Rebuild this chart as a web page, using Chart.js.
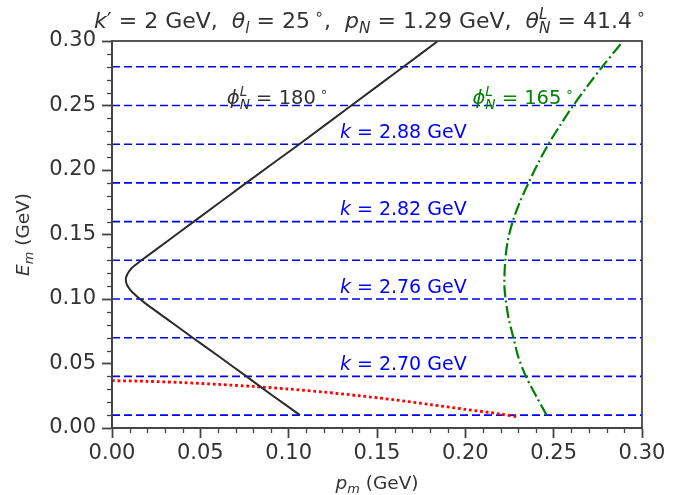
<!DOCTYPE html>
<html>
<head>
<meta charset="utf-8">
<script src="https://cdn.jsdelivr.net/npm/chart.js@4.4.0/dist/chart.umd.min.js"></script>
<style>
  html, body { margin: 0; padding: 0; background: #fff; }
</style>
</head>
<body>
<canvas id="chart" width="696" height="495"></canvas>
<script>
// dashed k = const lines (E_m in GeV)
const kLevels = [0.01, 0.04, 0.07, 0.10, 0.13, 0.16, 0.19, 0.22, 0.25, 0.28];
// k labels and the dashed line each one sits on
const kNames = ['2.70', '2.76', '2.82', '2.88'];
const kNameLevels = [0.04, 0.10, 0.16, 0.22];

// phi_N^L = 180 deg curve (p_m, E_m)
const phi180X = [0.1064, 0.0910, 0.0761, 0.0610, 0.0457, 0.0306, 0.0185, 0.0117, 0.0088, 0.0078, 0.0086, 0.0112, 0.0167, 0.0315, 0.0463, 0.0760, 0.1060, 0.1355, 0.1650, 0.1845];
const phi180Y = [0.010, 0.025, 0.040, 0.055, 0.070, 0.085, 0.097, 0.105, 0.110, 0.1147, 0.119, 0.124, 0.130, 0.145, 0.160, 0.190, 0.220, 0.250, 0.280, 0.300];

// phi_N^L = 165 deg curve
const phi165X = [0.2460, 0.2400, 0.2343, 0.2300, 0.2272, 0.2245, 0.2228, 0.2222, 0.2221, 0.2226, 0.2240, 0.2268, 0.2308, 0.2358, 0.2411, 0.2470, 0.2538, 0.2611, 0.2691, 0.2775, 0.2885];
const phi165Y = [0.010, 0.025, 0.040, 0.055, 0.070, 0.085, 0.100, 0.108, 0.115, 0.130, 0.145, 0.160, 0.175, 0.190, 0.205, 0.220, 0.235, 0.250, 0.265, 0.280, 0.2985];

// red dotted boundary
const redX = [0.000, 0.020, 0.040, 0.060, 0.080, 0.100, 0.120, 0.140, 0.160, 0.180, 0.200, 0.220, 0.230];
const redY = [0.0367, 0.0362, 0.0352, 0.0338, 0.0322, 0.0302, 0.0278, 0.0250, 0.0218, 0.0182, 0.0145, 0.0108, 0.0085];

const FONT = '"DejaVu Sans", sans-serif';
const TXT = '#333333';

function pts(xs, ys) {
  return xs.map((x, i) => ({ x: x, y: ys[i] }));
}

// draws text with italic parts, sub- and superscripts
function richWidth(ctx, parts, size) {
  let w = 0;
  parts.forEach(p => {
    if (p.ss) {
      ctx.font = 'italic ' + size * 0.7 + 'px ' + FONT;
      w += Math.max(ctx.measureText(p.ss[0]).width, ctx.measureText(p.ss[1]).width);
    } else {
      const s = p[2] ? size * 0.7 : size;
      ctx.font = (p[1] ? 'italic ' : '') + s + 'px ' + FONT;
      w += ctx.measureText(p[0]).width;
    }
  });
  return w;
}

function drawRich(ctx, parts, x, y, size, color, align) {
  const w = richWidth(ctx, parts, size);
  if (align === 'center') x -= w / 2;
  ctx.fillStyle = color;
  ctx.textBaseline = 'alphabetic';
  ctx.textAlign = 'left';
  parts.forEach(p => {
    if (p.ss) {
      ctx.font = 'italic ' + size * 0.7 + 'px ' + FONT;
      ctx.fillText(p.ss[0], x, y + size * 0.22);
      ctx.fillText(p.ss[1], x, y - size * 0.42);
      x += Math.max(ctx.measureText(p.ss[0]).width, ctx.measureText(p.ss[1]).width);
      return;
    }
    let s = size, dy = 0;
    if (p[2] === 'sub') { s = size * 0.7; dy = size * 0.22; }
    if (p[2] === 'sup') { s = size * 0.7; dy = -size * 0.42; }
    ctx.font = (p[1] ? 'italic ' : '') + s + 'px ' + FONT;
    ctx.fillText(p[0], x, y + dy);
    x += ctx.measureText(p[0]).width;
  });
}

const textPlugin = {
  id: 'texts',
  afterDatasetsDraw(chart) {
    const ctx = chart.ctx;
    const xs = chart.scales.x, ys = chart.scales.y;
    const a = chart.chartArea;
    ctx.save();

    // frame (top + right)
    ctx.strokeStyle = '#444';
    ctx.lineWidth = 1.8;
    ctx.strokeRect(a.left, a.top, a.right - a.left, a.bottom - a.top);

    // minor ticks
    ctx.lineWidth = 1.3;
    for (let i = 0; i <= 30; i++) {
      if (i % 5 === 0) continue;
      const px = Math.round(xs.getPixelForValue(i / 100)) + 0.5;
      ctx.beginPath(); ctx.moveTo(px, a.bottom); ctx.lineTo(px, a.bottom + 5); ctx.stroke();
      const py = Math.round(ys.getPixelForValue(i / 100)) + 0.5;
      ctx.beginPath(); ctx.moveTo(a.left, py); ctx.lineTo(a.left - 5, py); ctx.stroke();
    }

    // k labels
    kNames.forEach((k, i) => {
      drawRich(ctx, [['k', true], [' = ' + k + ' GeV']],
        xs.getPixelForValue(0.129), ys.getPixelForValue(kNameLevels[i] + 0.005), 19, '#0000ff');
    });

    // curve labels
    const phi = (v) => [['ϕ', true], { ss: ['N', 'L'] }, [' = ' + v + '\u2009'], ['∘', false, 'sup']];
    drawRich(ctx, phi('180'), xs.getPixelForValue(0.065), ys.getPixelForValue(0.251), 19.5, TXT);
    drawRich(ctx, phi('165'), xs.getPixelForValue(0.204), ys.getPixelForValue(0.251), 19.5, '#008000');

    // title
    const title = [['k', true], ['′'], [' = 2 GeV,  '], ['θ', true], ['l', true, 'sub'], [' = 25\u2009'], ['∘', false, 'sup'],
      [',  '], ['p', true], ['N', true, 'sub'], [' = 1.29 GeV,  '], ['θ', true], { ss: ['N', 'L'] }, [' = 41.4\u2009'], ['∘', false, 'sup']];
    drawRich(ctx, title, 370, 28, 22, TXT, 'center');

    // axis titles
    drawRich(ctx, [['p', true], ['m', true, 'sub'], [' (GeV)']], (a.left + a.right) / 2, 489, 18.5, TXT, 'center');
    ctx.save();
    ctx.translate(29, (a.top + a.bottom) / 2);
    ctx.rotate(-Math.PI / 2);
    drawRich(ctx, [['E', true], ['m', true, 'sub'], [' (GeV)']], 0, 0, 18.5, TXT, 'center');
    ctx.restore();

    ctx.restore();
  }
};

const lineSets = kLevels.map(y => ({
  data: [{ x: 0, y: y }, { x: 0.30, y: y }],
  borderColor: '#0000ff',
  borderWidth: 1.6,
  borderDash: [8, 4],
  pointRadius: 0,
  showLine: true,
  order: 2
}));

const ctx = document.getElementById('chart').getContext('2d');
const myChart = new Chart(ctx, {
  type: 'scatter',
  data: {
    datasets: lineSets.concat([
      {
        data: pts(phi180X, phi180Y),
        borderColor: '#2b2b2b',
        borderWidth: 2,
        tension: 0.15,
        pointRadius: 0,
        showLine: true,
        order: 1
      },
      {
        data: pts(phi165X, phi165Y),
        borderColor: '#008000',
        borderWidth: 2.2,
        borderDash: [12, 3.5, 2, 3.5],
        tension: 0.3,
        pointRadius: 0,
        showLine: true,
        order: 1
      },
      {
        data: pts(redX, redY),
        borderColor: '#ff0000',
        borderWidth: 2.8,
        borderDash: [2.8, 2.8],
        tension: 0.3,
        pointRadius: 0,
        showLine: true,
        order: 1
      }
    ])
  },
  options: {
    responsive: false,
    animation: false,
    devicePixelRatio: 1,
    layout: { padding: { top: 41, right: 54, bottom: 0, left: 0 } },
    plugins: { legend: { display: false }, tooltip: { enabled: false } },
    scales: {
      x: {
        type: 'linear',
        min: 0,
        max: 0.30,
        afterFit: (s) => { s.height = 67; },
        ticks: {
          stepSize: 0.05,
          callback: (v) => v.toFixed(2),
          color: TXT,
          font: { family: FONT, size: 21 },
          padding: 3,
          maxRotation: 0
        },
        grid: { drawOnChartArea: false, tickLength: 10, tickWidth: 1.8, tickColor: '#444' },
        border: { color: '#444', width: 1.8 }
      },
      y: {
        type: 'linear',
        min: 0,
        max: 0.30,
        afterFit: (s) => { s.width = 112; },
        ticks: {
          stepSize: 0.05,
          callback: (v) => v.toFixed(2),
          color: TXT,
          font: { family: FONT, size: 21 },
          padding: 6
        },
        grid: { drawOnChartArea: false, tickLength: 10, tickWidth: 1.8, tickColor: '#444' },
        border: { color: '#444', width: 1.8 }
      }
    }
  },
  plugins: [textPlugin]
});
</script>
</body>
</html>
